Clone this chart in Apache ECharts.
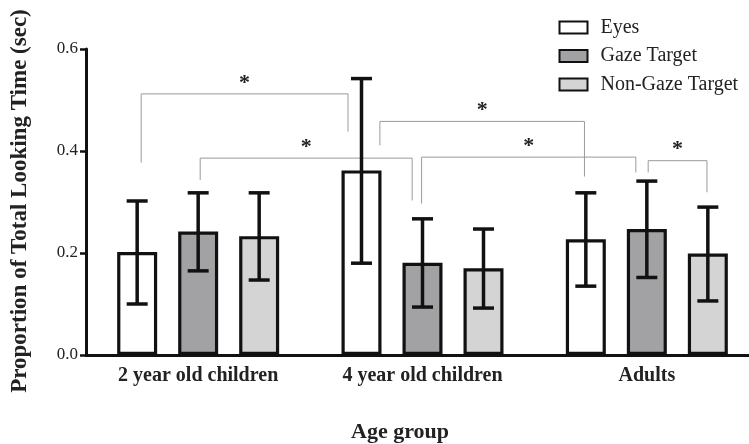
<!DOCTYPE html>
<html>
<head>
<meta charset="utf-8">
<script src="https://cdn.jsdelivr.net/npm/echarts@6/dist/echarts.min.js"></script>
<style>html,body{margin:0;padding:0;background:#fff}#c{width:749px;height:444px}</style>
</head>
<body>
<div id="c"></div>
<script>
var categories = ['2 year old children', '4 year old children', 'Adults'];
var seriesNames = ['Eyes', 'Gaze Target', 'Non-Gaze Target'];
var eyesMean = [0.202, 0.362, 0.227];
var gazeMean = [0.242, 0.181, 0.247];
var nonGazeMean = [0.233, 0.170, 0.199];
var eyesHigh = [0.302, 0.542, 0.318];
var eyesLow = [0.100, 0.180, 0.135];
var gazeHigh = [0.318, 0.267, 0.341];
var gazeLow = [0.165, 0.094, 0.152];
var nonGazeHigh = [0.318, 0.247, 0.290];
var nonGazeLow = [0.147, 0.092, 0.106];
var yTicks = [0, 0.2, 0.4, 0.6];
// significance brackets (x in category units, y in data units)
var bracketX1 = [-0.254, 0.009, 0.810, 0.996, 2.006];
var bracketX2 = [0.668, 0.954, 1.722, 1.951, 2.268];
var bracketTop = [0.512, 0.386, 0.458, 0.388, 0.381];
var bracketLeftEnd = [0.377, 0.343, 0.411, 0.297, 0.358];
var bracketRightEnd = [0.438, 0.303, 0.350, 0.358, 0.319];
var bracketLabel = ['*', '*', '*', '*', '*'];

var SERIF = '"Liberation Serif", "Times New Roman", serif';
var BAR_W = 40, BAR_GAP = 0.525;
var colors = ['#ffffff', '#a2a2a5', '#d4d4d4'];
var means = [eyesMean, gazeMean, nonGazeMean];
var highs = [eyesHigh, gazeHigh, nonGazeHigh];
var lows = [eyesLow, gazeLow, nonGazeLow];

var chart = echarts.init(document.getElementById('c'), null, {renderer: 'canvas'});

var series = [];
seriesNames.forEach(function (n, i) {
  series.push({
    name: n, type: 'bar', xAxisIndex: 0, yAxisIndex: 0,
    data: means[i], barWidth: BAR_W, barGap: (BAR_GAP * 100) + '%',
    itemStyle: {color: colors[i], borderColor: '#111', borderWidth: 3.2},
    emphasis: {disabled: true}, z: 2
  });
});
seriesNames.forEach(function (n, i) {
  var d = categories.map(function (c, k) { return [k, lows[i][k], highs[i][k]]; });
  series.push({
    type: 'custom', xAxisIndex: 0, yAxisIndex: 0, silent: true, z: 5,
    data: d,
    renderItem: function (params, api) {
      var off = (i - 1) * BAR_W * (1 + BAR_GAP);
      var pLo = api.coord([api.value(0), api.value(1)]);
      var pHi = api.coord([api.value(0), api.value(2)]);
      var x = pLo[0] + off, cw = 10.5;
      var st = {stroke: '#111', lineWidth: 3.5, fill: null};
      return {type: 'group', children: [
        {type: 'line', shape: {x1: x, y1: pLo[1], x2: x, y2: pHi[1]}, style: st},
        {type: 'line', shape: {x1: x - cw, y1: pLo[1], x2: x + cw, y2: pLo[1]}, style: st},
        {type: 'line', shape: {x1: x - cw, y1: pHi[1], x2: x + cw, y2: pHi[1]}, style: st}
      ]};
    }
  });
});
series.push({
  type: 'custom', xAxisIndex: 1, yAxisIndex: 0, silent: true, z: 4,
  data: bracketX1.map(function (v, k) { return [v, bracketX2[k], bracketTop[k], bracketLeftEnd[k], bracketRightEnd[k]]; }),
  renderItem: function (params, api) {
    var k = params.dataIndex;
    var a = api.coord([api.value(0), api.value(3)]);
    var b = api.coord([api.value(0), api.value(2)]);
    var c = api.coord([api.value(1), api.value(2)]);
    var d = api.coord([api.value(1), api.value(4)]);
    return {type: 'group', children: [
      {type: 'polyline', shape: {points: [a, b, c, d]}, style: {stroke: '#9a9a9a', lineWidth: 1, fill: null}},
      {type: 'text', x: (b[0] + c[0]) / 2, y: b[1] - 11,
       style: {text: bracketLabel[k], font: 'bold 22px ' + SERIF, fill: '#222', align: 'center', verticalAlign: 'middle'}}
    ]};
  }
});

chart.setOption({
  animation: false,
  backgroundColor: '#fff',
  grid: {left: 86, width: 673, top: 49, bottom: 89, outerBoundsMode: 'none', containLabel: false},
  legend: {
    data: seriesNames, orient: 'vertical', left: 558.5, top: 17.5, padding: 0,
    itemWidth: 28, itemHeight: 12, itemGap: 8.5, icon: 'rect', selectedMode: false,
    textStyle: {fontFamily: SERIF, fontSize: 20, color: '#222', padding: [0, 0, 0, 8]}
  },
  xAxis: [{
    type: 'category', data: categories, gridIndex: 0,
    axisLine: {lineStyle: {color: '#111', width: 3}},
    axisTick: {alignWithLabel: true, length: 7, lineStyle: {color: '#111', width: 2.5}},
    axisLabel: {fontFamily: SERIF, fontWeight: 'bold', fontSize: 20, color: '#222', margin: 11}
  }, {
    type: 'value', gridIndex: 0, min: -0.5, max: 2.5, show: false
  }],
  yAxis: [{
    type: 'value', min: yTicks[0], max: yTicks[yTicks.length - 1], interval: yTicks[1] - yTicks[0],
    axisLine: {show: true, onZero: false, lineStyle: {color: '#111', width: 3}},
    axisTick: {show: true, length: 6, lineStyle: {color: '#111', width: 2.5}},
    splitLine: {show: false},
    axisLabel: {fontFamily: SERIF, fontSize: 17, color: '#222', margin: 8,
      formatter: function (v) { return v.toFixed(1); }}
  }],
  graphic: [
    {type: 'text', x: 20, y: 201, rotation: Math.PI / 2,
     style: {text: 'Proportion of Total Looking Time (sec)', font: 'bold 23px ' + SERIF, fill: '#222', align: 'center', verticalAlign: 'middle'}},
    {type: 'text', x: 400, y: 432,
     style: {text: 'Age group', font: 'bold 22px ' + SERIF, fill: '#222', align: 'center', verticalAlign: 'middle'}}
  ],
  series: series
});
</script>
</body>
</html>
